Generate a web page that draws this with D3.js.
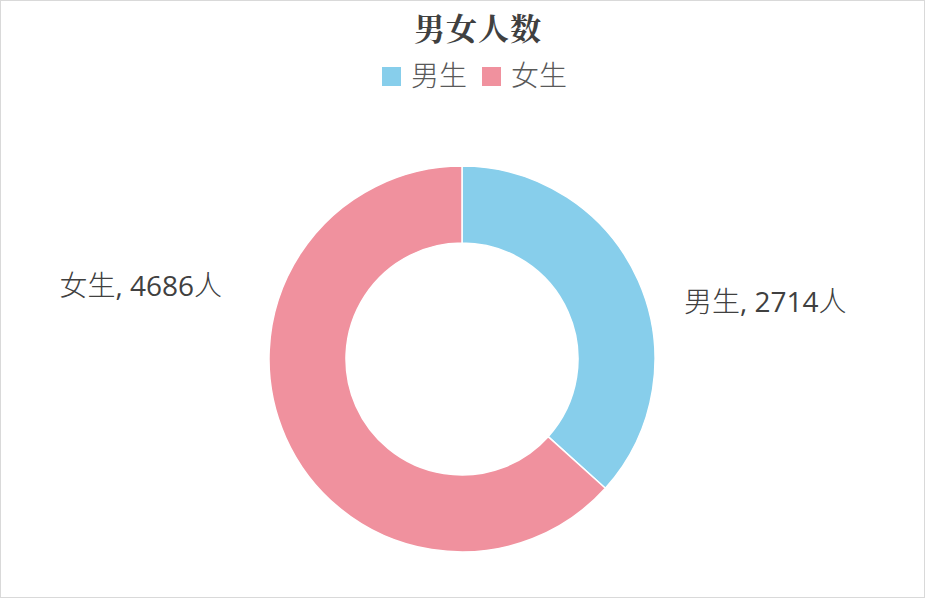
<!DOCTYPE html>
<html><head><meta charset="utf-8">
<script src="https://cdn.jsdelivr.net/npm/d3@7"></script>
<style>html,body{margin:0;padding:0;background:#fff;}</style>
</head><body>
<svg id="chart" width="926" height="599"></svg>
<script>
const title = "男女人数";
const categories = ["男生", "女生"];
const values = [2714, 4686];
const unit = "人";
const colors = ["#87CEEB", "#F0919E"];

const svg = d3.select("#chart");
svg.append("rect").attr("x", 0.5).attr("y", 0.5).attr("width", 924).attr("height", 597)
  .attr("fill", "#fff").attr("stroke", "#d9d9d9");

const cjk = "'Noto Serif CJK SC','Noto Sans CJK SC',serif";
svg.append("text").attr("x", 478).attr("y", 40).attr("text-anchor", "middle")
  .attr("font-family", cjk).attr("font-weight", "bold").attr("font-size", 31)
  .attr("letter-spacing", 1)
  .attr("fill", "#404040").text(title);

// legend
const legendX = [382, 482];
categories.forEach((c, i) => {
  const g = svg.append("g").attr("transform", `translate(${legendX[i]},0)`);
  g.append("rect").attr("x", 0).attr("y", 67).attr("width", 19).attr("height", 19).attr("fill", colors[i]);
  g.append("text").attr("x", 29).attr("y", 86).attr("font-family", "'Noto Sans CJK SC',sans-serif")
    .attr("font-weight", 300).attr("font-size", 28).attr("fill", "#595959").text(c);
});

const cx = 462, cy = 359, R = 193, r = 116;
const pie = d3.pie().sort(null).value(d => d)(values);
const arc = d3.arc().innerRadius(r).outerRadius(R);
const g = svg.append("g").attr("transform", `translate(${cx},${cy})`);
g.selectAll("path").data(pie).join("path")
  .attr("d", arc).attr("fill", (d, i) => colors[i])
  .attr("stroke", "#fff").attr("stroke-width", 1.5);

// labels
const labelPos = [[684, 312, "start"], [222, 296, "end"]];
pie.forEach((d, i) => {
  const t = svg.append("text").attr("x", labelPos[i][0]).attr("y", labelPos[i][1])
    .attr("text-anchor", labelPos[i][2]).attr("font-size", 28).attr("fill", "#404040")
    .attr("font-family", "'Open Sans','Noto Sans CJK SC',sans-serif");
  t.append("tspan").attr("font-family", "'Noto Sans CJK SC',sans-serif").attr("font-weight", 300).text(categories[i]);
  t.append("tspan").text(", " + values[i]);
  t.append("tspan").attr("font-family", "'Noto Sans CJK SC',sans-serif").attr("font-weight", 300).text(unit);
});
</script>
</body></html>
